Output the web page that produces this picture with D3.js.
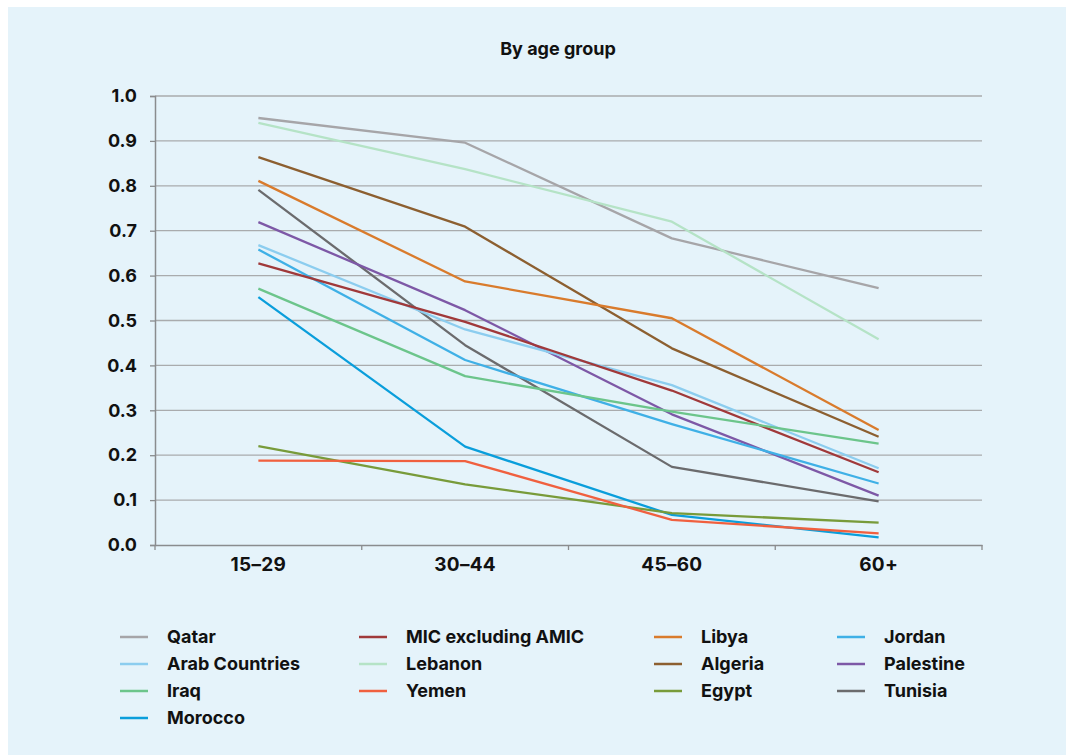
<!DOCTYPE html>
<html><head><meta charset="utf-8">
<script src="https://cdn.jsdelivr.net/npm/d3@7"></script>
<style>
html,body{margin:0;padding:0;background:#fff;}
svg{display:block;font-family:Inter,"Noto Sans",sans-serif;}
</style></head>
<body><svg id="chart" width="1066" height="755"></svg>
<script>
const categories = ["15–29","30–44","45–60","60+"];
const yTicks = [0,0.1,0.2,0.3,0.4,0.5,0.6,0.7,0.8,0.9,1.0];
const seriesNames = ["Qatar","MIC excluding AMIC","Libya","Jordan","Arab Countries","Lebanon","Algeria","Palestine","Iraq","Yemen","Egypt","Tunisia","Morocco"];
const seriesColors = ["#a6a5a8","#a0393a","#d97b2c","#3fb0e6","#8ccdef","#b5e3c6","#8c5f30","#7d58a6","#6cc58b","#f0603f","#789b3a","#6b6b6d","#0a9edb"];
const qatar = [0.951,0.896,0.683,0.572];
const mic = [0.627,0.497,0.344,0.162];
const libya = [0.811,0.587,0.505,0.256];
const jordan = [0.658,0.412,0.269,0.137];
const arab = [0.668,0.480,0.356,0.171];
const lebanon = [0.940,0.837,0.720,0.458];
const algeria = [0.864,0.709,0.438,0.241];
const palestine = [0.719,0.523,0.291,0.110];
const iraq = [0.571,0.376,0.297,0.226];
const yemen = [0.188,0.187,0.056,0.026];
const egypt = [0.220,0.135,0.071,0.050];
const tunisia = [0.791,0.445,0.174,0.097];
const morocco = [0.552,0.219,0.067,0.017];
const seriesValues = [qatar,mic,libya,jordan,arab,lebanon,algeria,palestine,iraq,yemen,egypt,tunisia,morocco];
// drawing order (back to front)
const drawOrder = ["Qatar","Lebanon","Algeria","Libya","Tunisia","Palestine","Arab Countries","Jordan","MIC excluding AMIC","Iraq","Morocco","Egypt","Yemen"];

const svg = d3.select("#chart");
svg.append("rect").attr("x",8).attr("y",7).attr("width",1058).attr("height",748).attr("fill","#e5f3fa");

const pLeft=155, pRight=982, pTop=96, pBottom=545;
const x = d3.scaleBand().domain(categories).range([pLeft,pRight]);
const y = d3.scaleLinear().domain([0,1]).range([pBottom,pTop]);

svg.append("text").attr("x",558).attr("y",55).attr("text-anchor","middle")
  .attr("font-size",18).attr("font-weight",700).attr("fill","#111").text("By age group");

// gridlines
svg.append("g").selectAll("line").data(yTicks.filter(d=>d>0)).join("line")
  .attr("x1",pLeft).attr("x2",pRight).attr("y1",d=>y(d)).attr("y2",d=>y(d))
  .attr("stroke","#a9abad").attr("stroke-width",1.3);

// y axis
const yAxis = svg.append("g").attr("transform",`translate(${pLeft},0)`)
  .call(d3.axisLeft(y).tickValues(yTicks).tickFormat(d3.format(".1f")).tickSize(5).tickPadding(13));
yAxis.select(".domain").attr("stroke","#8a8c8e").attr("stroke-width",1.5);
yAxis.selectAll(".tick line").attr("stroke","#8a8c8e").attr("stroke-width",1.3);
yAxis.selectAll("text").attr("font-size",18).attr("font-weight",700).attr("fill","#111").attr("font-family","Inter,sans-serif");

// x axis
const xAxis = svg.append("g").attr("transform",`translate(0,${pBottom})`)
  .call(d3.axisBottom(x).tickSize(0).tickPadding(13));
xAxis.select(".domain").attr("stroke","#8a8c8e").attr("stroke-width",1.5);
xAxis.selectAll("text").attr("font-size",19).attr("font-weight",700).attr("fill","#111").attr("font-family","Inter,sans-serif").attr("letter-spacing","0.3px");
// band boundary ticks
svg.append("g").selectAll("line").data(categories.map(c=>x(c)).concat([x(categories[3])+x.bandwidth()])).join("line")
  .attr("x1",d=>d).attr("x2",d=>d).attr("y1",pBottom).attr("y2",pBottom+5)
  .attr("stroke","#8a8c8e").attr("stroke-width",1.3);

const line = d3.line().x((d,i)=>x(categories[i])+x.bandwidth()/2).y(d=>y(d));
const g = svg.append("g");
drawOrder.forEach(name=>{
  const i = seriesNames.indexOf(name);
  g.append("path").datum(seriesValues[i]).attr("d",line)
    .attr("fill","none").attr("stroke",seriesColors[i]).attr("stroke-width",2.3)
    .attr("stroke-linejoin","round");
});

// legend
const colX = [120,359,654,837];
const rowY = [637,664,691,718];
const leg = svg.append("g");
seriesNames.forEach((name,i)=>{
  const c = i%4, r = Math.floor(i/4);
  leg.append("line").attr("x1",colX[c]).attr("x2",colX[c]+28).attr("y1",rowY[r]).attr("y2",rowY[r])
    .attr("stroke",seriesColors[i]).attr("stroke-width",2.5);
  leg.append("text").attr("x",colX[c]+47).attr("y",rowY[r]).attr("dy","0.35em")
    .attr("font-size",18).attr("font-weight",700).attr("fill","#111").text(name);
});
</script></body></html>
